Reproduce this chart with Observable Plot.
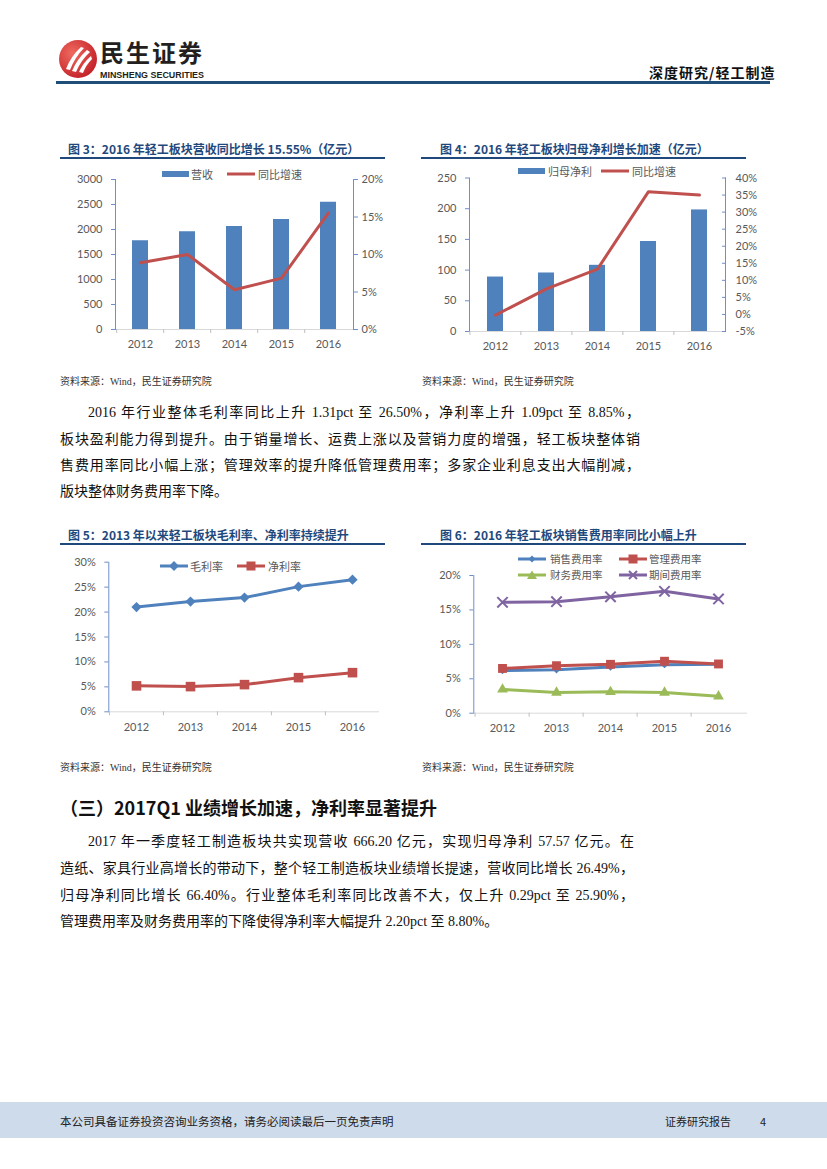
<!DOCTYPE html>
<html><head><meta charset="utf-8">
<script src="https://cdn.jsdelivr.net/npm/d3@7"></script>
<script src="https://cdn.jsdelivr.net/npm/@observablehq/plot@0.6"></script>
<style>
body{margin:0;background:#fff;}
#page{position:relative;width:827px;height:1169px;overflow:hidden;background:#fff;font-family:"Noto Sans CJK SC",sans-serif;}
.abs{position:absolute;white-space:nowrap;}
.title{font-size:12px;font-weight:bold;color:#1f497d;line-height:14px;}
.uline{position:absolute;height:2px;background:#1f497d;}
.src{font-size:10px;color:#333;line-height:14px;font-family:"Liberation Serif","Noto Sans CJK SC",serif;}
.para{position:absolute;font-family:"Liberation Serif","Noto Sans CJK SC",serif;font-size:14px;color:#111;line-height:18px;}
.just{text-align:justify;text-align-last:justify;}
.lg{position:absolute;font-size:11px;color:#595959;line-height:12px;white-space:nowrap;}
</style>
</head><body>
<div id="page">
  <!-- header -->
  <svg class="abs" style="left:57px;top:38px" width="42" height="42" viewBox="0 0 42 42">
    <defs><radialGradient id="lg" cx="35%" cy="35%" r="75%"><stop offset="0" stop-color="#f06a5f"/><stop offset="1" stop-color="#c01d25"/></radialGradient></defs>
    <circle cx="21" cy="21" r="19" fill="url(#lg)"/>
    <path d="M9 31 Q14 18 24 9 L27 10 Q18 19 13 32 Z" fill="#fff"/>
    <path d="M15 33 Q20 21 30 12 L33 14 Q24 22 19 34 Z" fill="#fff"/>
    <path d="M22 34 Q26 25 34 18 L35 21 Q29 27 26 35 Z" fill="#fff"/>
  </svg>
  <div class="abs" style="left:100px;top:40px;font-size:24px;font-weight:bold;color:#231f20;line-height:24px;letter-spacing:2px;">民生证券</div>
  <svg class="abs" style="left:100px;top:68px" width="106" height="12"><text x="0" y="9.5" textLength="104" lengthAdjust="spacingAndGlyphs" font-family="Liberation Sans Narrow, Liberation Sans, sans-serif" font-weight="bold" font-size="9" fill="#231f20">MINSHENG SECURITIES</text></svg>
  <div class="abs" style="left:649px;top:63px;font-size:14px;font-weight:bold;color:#111;letter-spacing:1px;line-height:18px;">深度研究/轻工制造</div>
  <div class="abs" style="left:56px;top:81px;width:714px;height:2.5px;background:#1f4e79;"></div>

  <!-- chart titles -->
  <div class="abs title" style="left:68px;top:142px;">图 3：2016 年轻工板块营收同比增长 15.55%（亿元）</div>
  <div class="uline" style="left:60px;top:157px;width:325px;"></div>
  <div class="abs title" style="left:440px;top:142px;">图 4：2016 年轻工板块归母净利增长加速（亿元）</div>
  <div class="uline" style="left:421px;top:157px;width:325px;"></div>
  <div class="abs src" style="left:60px;top:375px;">资料来源：Wind，民生证券研究院</div>
  <div class="abs src" style="left:422px;top:375px;">资料来源：Wind，民生证券研究院</div>

  <div class="para just" style="left:88px;top:404px;width:552px;">2016 年行业整体毛利率同比上升 1.31pct 至 26.50%，净利率上升 1.09pct 至 8.85%，</div>
  <div class="para just" style="left:60px;top:431px;width:580px;">板块盈利能力得到提升。由于销量增长、运费上涨以及营销力度的增强，轻工板块整体销</div>
  <div class="para just" style="left:60px;top:457px;width:580px;">售费用率同比小幅上涨；管理效率的提升降低管理费用率；多家企业利息支出大幅削减，</div>
  <div class="para" style="left:60px;top:483px;">版块整体财务费用率下降。</div>

  <div class="abs title" style="left:68px;top:528px;">图 5：2013 年以来轻工板块毛利率、净利率持续提升</div>
  <div class="uline" style="left:60px;top:543px;width:325px;"></div>
  <div class="abs title" style="left:440px;top:528px;">图 6：2016 年轻工板块销售费用率同比小幅上升</div>
  <div class="uline" style="left:421px;top:543px;width:325px;"></div>
  <div class="abs src" style="left:60px;top:761px;">资料来源：Wind，民生证券研究院</div>
  <div class="abs src" style="left:422px;top:761px;">资料来源：Wind，民生证券研究院</div>

  <div class="abs" style="left:60px;top:794px;font-size:18px;font-weight:bold;color:#111;line-height:26px;">（三）2017Q1 业绩增长加速，净利率显著提升</div>

  <div class="para just" style="left:88px;top:833px;width:546px;">2017 年一季度轻工制造板块共实现营收 666.20 亿元，实现归母净利 57.57 亿元。在</div>
  <div class="para just" style="left:60px;top:860px;width:574px;">造纸、家具行业高增长的带动下，整个轻工制造板块业绩增长提速，营收同比增长 26.49%，</div>
  <div class="para just" style="left:60px;top:887px;width:574px;">归母净利同比增长 66.40%。行业整体毛利率同比改善不大，仅上升 0.29pct 至 25.90%，</div>
  <div class="para" style="left:60px;top:913px;">管理费用率及财务费用率的下降使得净利率大幅提升 2.20pct 至 8.80%。</div>

  <!-- footer -->
  <div class="abs" style="left:0;top:1102px;width:827px;height:36px;background:#cedbeb;"></div>
  <div class="abs" style="left:60px;top:1113px;font-size:11.5px;color:#222;line-height:16px;">本公司具备证券投资咨询业务资格，请务必阅读最后一页免责声明</div>
  <div class="abs" style="left:665px;top:1113px;font-size:11px;color:#222;line-height:16px;">证券研究报告</div>
  <div class="abs" style="left:760px;top:1113px;font-size:11px;color:#222;line-height:16px;">4</div>
</div>
<script>
// ---------- data ----------
const years = ["2012", "2013", "2014", "2015", "2016"];
// Fig 3
const revenue = [1775, 1955, 2060, 2200, 2545];
const revenueYoY = [8.9, 10.0, 5.3, 6.85, 15.55];
const revenueTicks = [0, 500, 1000, 1500, 2000, 2500, 3000];
const revenueYoYTicks = [0, 5, 10, 15, 20];
// Fig 4
const netProfit = [88.7, 95.3, 107.8, 146.6, 198];
const netProfitYoY = [-0.2, 7.5, 13.3, 36.0, 35.0];
const profitTicks = [0, 50, 100, 150, 200, 250];
const profitYoYTicks = [-5, 0, 5, 10, 15, 20, 25, 30, 35, 40];
// Fig 5
const grossMargin = [21.0, 22.1, 22.9, 25.1, 26.5];
const netMargin = [5.2, 5.05, 5.45, 6.85, 7.85];
const marginTicks = [0, 5, 10, 15, 20, 25, 30];
// Fig 6
const sellingExp = [6.2, 6.3, 6.7, 7.05, 7.1];
const adminExp = [6.5, 6.9, 7.1, 7.55, 7.15];
const financeExp = [3.45, 3.0, 3.1, 3.0, 2.45];
const periodExp = [16.1, 16.2, 16.9, 17.7, 16.6];
const expTicks = [0, 5, 10, 15, 20];

// ---------- styles ----------
const barBlue = "#4f81bd", lineRed = "#c0504d", green = "#9bbb59", purple = "#8064a2";
const axisBlue = "#6f8fc9", tickGrey = "#bfbfbf", labelGrey = "#595959";
const baseStyle = {fontFamily: "Lato, 'Noto Sans', sans-serif", fontSize: "11px", color: labelGrey, background: "transparent", overflow: "visible"};
const page = document.getElementById("page");
function place(el, left, top) {
  const d = document.createElement("div");
  d.style.cssText = `position:absolute;left:${left}px;top:${top}px;`;
  d.appendChild(el);
  page.appendChild(d);
}
const pct = d => d + "%";
const plain = d => String(d);

// ---------- Fig 3 ----------
{
  const W = 330, H = 194, ML = 55, MR = 37, MT = 14, MB = 30;
  const step = (W - ML - MR) / years.length;
  const k = 3000 / 20;
  const data = years.map((year, i) => ({year, value: revenue[i], yoy: revenueYoY[i]}));
  const c = Plot.plot({
    width: W, height: H, marginLeft: ML, marginRight: MR, marginTop: MT, marginBottom: MB,
    style: baseStyle,
    x: {type: "band", domain: years, paddingInner: 0.664, paddingOuter: 0.332, label: null},
    y: {domain: [0, 3000], label: null},
    marks: [
      Plot.barY(data, {x: "year", y: "value", fill: barBlue}),
      Plot.ruleY([0], {stroke: "#d9d9d9"}),
      Plot.line(data, {x: "year", y: d => d.yoy * k, stroke: lineRed, strokeWidth: 3, strokeLinejoin: "round"}),
      Plot.frame({anchor: "left", stroke: axisBlue}),
      Plot.frame({anchor: "right", stroke: axisBlue}),
      Plot.axisY({ticks: revenueTicks, anchor: "left", tickSize: 4, tickPadding: 9, stroke: axisBlue, fill: labelGrey, tickFormat: plain, label: null}),
      Plot.axisY({ticks: revenueYoYTicks.map(p => p * k), anchor: "right", tickSize: 4, tickPadding: 4, stroke: axisBlue, fill: labelGrey, tickFormat: v => Math.round(v / k) + "%", label: null}),
      Plot.axisX({tickSize: 0, tickPadding: 11, fill: labelGrey, label: null}),
      Plot.axisX({tickSize: 4, fill: "none", stroke: tickGrey, dx: -step / 2, label: null})
    ]
  });
  place(c, 60, 165);
}

// ---------- Fig 4 ----------
{
  const W = 350, H = 196, ML = 49, MR = 45, MT = 12.5, MB = 30;
  const step = (W - ML - MR) / years.length;
  const toLeft = p => (p + 5) * 250 / 45;
  const fromLeft = v => v * 45 / 250 - 5;
  const data = years.map((year, i) => ({year, value: netProfit[i], yoy: netProfitYoY[i]}));
  const c = Plot.plot({
    width: W, height: H, marginLeft: ML, marginRight: MR, marginTop: MT, marginBottom: MB,
    style: baseStyle,
    x: {type: "band", domain: years, paddingInner: 0.686, paddingOuter: 0.343, label: null},
    y: {domain: [0, 250], label: null},
    marks: [
      Plot.barY(data, {x: "year", y: "value", fill: barBlue}),
      Plot.ruleY([0], {stroke: "#d9d9d9"}),
      Plot.line(data, {x: "year", y: d => toLeft(d.yoy), stroke: lineRed, strokeWidth: 3, strokeLinejoin: "round"}),
      Plot.frame({anchor: "left", stroke: axisBlue}),
      Plot.frame({anchor: "right", stroke: axisBlue}),
      Plot.axisY({ticks: profitTicks, anchor: "left", tickSize: 4, tickPadding: 9, stroke: axisBlue, fill: labelGrey, tickFormat: plain, label: null}),
      Plot.axisY({ticks: profitYoYTicks.map(toLeft), anchor: "right", tickSize: 4, tickPadding: 10, dx: -4, stroke: axisBlue, fill: labelGrey, tickFormat: v => Math.round(fromLeft(v)) + "%", label: null}),
      Plot.axisX({tickSize: 0, tickPadding: 11, fill: labelGrey, label: null}),
      Plot.axisX({tickSize: 4, fill: "none", stroke: tickGrey, dx: -step / 2, label: null})
    ]
  });
  place(c, 420, 165);
}

// ---------- Fig 5 ----------
{
  const W = 325, H = 191, ML = 48.3, MR = 6, MT = 11.7, MB = 29.7;
  const step = (W - ML - MR) / years.length;
  const data = years.map((year, i) => ({year, gross: grossMargin[i], net: netMargin[i]}));
  const c = Plot.plot({
    width: W, height: H, marginLeft: ML, marginRight: MR, marginTop: MT, marginBottom: MB,
    style: baseStyle,
    x: {type: "band", domain: years, padding: 0, label: null},
    y: {domain: [0, 30], label: null},
    marks: [
      Plot.ruleY([0], {stroke: "#d9d9d9"}),
      Plot.frame({anchor: "left", stroke: axisBlue}),
      Plot.axisY({ticks: marginTicks, anchor: "left", tickSize: 4, tickPadding: 9, stroke: axisBlue, fill: labelGrey, tickFormat: pct, label: null}),
      Plot.axisX({tickSize: 0, tickPadding: 11, fill: labelGrey, label: null}),
      Plot.axisX({tickSize: 4, fill: "none", stroke: tickGrey, dx: -step / 2, label: null}),
      Plot.line(data, {x: "year", y: "gross", stroke: barBlue, strokeWidth: 3, strokeLinejoin: "round"}),
      Plot.dot(data, {x: "year", y: "gross", symbol: "square", rotate: 45, r: 4.1, fill: barBlue}),
      Plot.line(data, {x: "year", y: "net", stroke: lineRed, strokeWidth: 3, strokeLinejoin: "round"}),
      Plot.dot(data, {x: "year", y: "net", symbol: "square", r: 5.4, fill: lineRed})
    ]
  });
  place(c, 60, 550);
}

// ---------- Fig 6 ----------
{
  const W = 330, H = 193, ML = 53.3, MR = 3, MT = 25, MB = 30.3;
  const step = (W - ML - MR) / years.length;
  const data = years.map((year, i) => ({year, s: sellingExp[i], a: adminExp[i], f: financeExp[i], p: periodExp[i]}));
  const c = Plot.plot({
    width: W, height: H, marginLeft: ML, marginRight: MR, marginTop: MT, marginBottom: MB,
    style: baseStyle,
    x: {type: "band", domain: years, padding: 0, label: null},
    y: {domain: [0, 20], label: null},
    marks: [
      Plot.ruleY([0], {stroke: "#d9d9d9"}),
      Plot.frame({anchor: "left", stroke: axisBlue}),
      Plot.axisY({ticks: expTicks, anchor: "left", tickSize: 4, tickPadding: 9, stroke: axisBlue, fill: labelGrey, tickFormat: pct, label: null}),
      Plot.axisX({tickSize: 0, tickPadding: 11, fill: labelGrey, label: null}),
      Plot.axisX({tickSize: 4, fill: "none", stroke: tickGrey, dx: -step / 2, label: null}),
      Plot.line(data, {x: "year", y: "s", stroke: barBlue, strokeWidth: 3, strokeLinejoin: "round"}),
      Plot.dot(data, {x: "year", y: "s", symbol: "square", rotate: 45, r: 2.9, fill: barBlue}),
      Plot.line(data, {x: "year", y: "a", stroke: lineRed, strokeWidth: 3, strokeLinejoin: "round"}),
      Plot.dot(data, {x: "year", y: "a", symbol: "square", r: 5, fill: lineRed}),
      Plot.line(data, {x: "year", y: "f", stroke: green, strokeWidth: 3, strokeLinejoin: "round"}),
      Plot.dot(data, {x: "year", y: "f", symbol: "triangle", r: 4, fill: green}),
      Plot.line(data, {x: "year", y: "p", stroke: purple, strokeWidth: 3, strokeLinejoin: "round"}),
      Plot.dot(data, {x: "year", y: "p", symbol: "times", r: 4.8, stroke: purple, strokeWidth: 2})
    ]
  });
  place(c, 420, 550);
}

// ---------- legends ----------
function swatch(type, color) {
  let inner = "";
  if (type === "rect") inner = `<rect x="0" y="3" width="27" height="6" fill="${color}"/>`;
  else inner = `<line x1="0" y1="6" x2="28" y2="6" stroke="${color}" stroke-width="3"/>`;
  if (type === "diamond") inner += `<rect x="10.5" y="2.5" width="7" height="7" fill="${color}" transform="rotate(45 14 6)"/>`;
  if (type === "diamondS") inner += `<rect x="11.5" y="3.5" width="5" height="5" fill="${color}" transform="rotate(45 14 6)"/>`;
  if (type === "square") inner += `<rect x="9.5" y="1.5" width="9" height="9" fill="${color}"/>`;
  if (type === "triangle") inner += `<path d="M14 1.5 L19 10 L9 10 Z" fill="${color}"/>`;
  if (type === "times") inner += `<path d="M10 2 L18 10 M18 2 L10 10" stroke="${color}" stroke-width="2"/>`;
  return `<svg width="28" height="12" style="display:block">${inner}</svg>`;
}
function legend(x, cy, type, color, text, tx, fs) {
  const s = document.createElement("div");
  s.className = "lg";
  s.style.left = x + "px"; s.style.top = (cy - 6) + "px";
  s.innerHTML = swatch(type, color);
  page.appendChild(s);
  const t = document.createElement("div");
  t.className = "lg";
  if (fs) t.style.fontSize = fs + "px";
  t.style.left = tx + "px"; t.style.top = (cy - 6) + "px";
  t.textContent = text;
  page.appendChild(t);
}
legend(162, 173.5, "rect", barBlue, "营收", 191);
legend(227, 173.5, "line", lineRed, "同比增速", 258);
legend(518, 171, "rect", barBlue, "归母净利", 548);
legend(601, 171, "line", lineRed, "同比增速", 632);
legend(160, 566, "diamond", barBlue, "毛利率", 190);
legend(237, 566, "square", lineRed, "净利率", 268);
legend(518, 558.5, "diamondS", barBlue, "销售费用率", 550, 10.5);
legend(619, 558.5, "square", lineRed, "管理费用率", 649, 10.5);
legend(518, 574.5, "triangle", green, "财务费用率", 550, 10.5);
legend(619, 574.5, "times", purple, "期间费用率", 649, 10.5);
</script>
</body></html>
